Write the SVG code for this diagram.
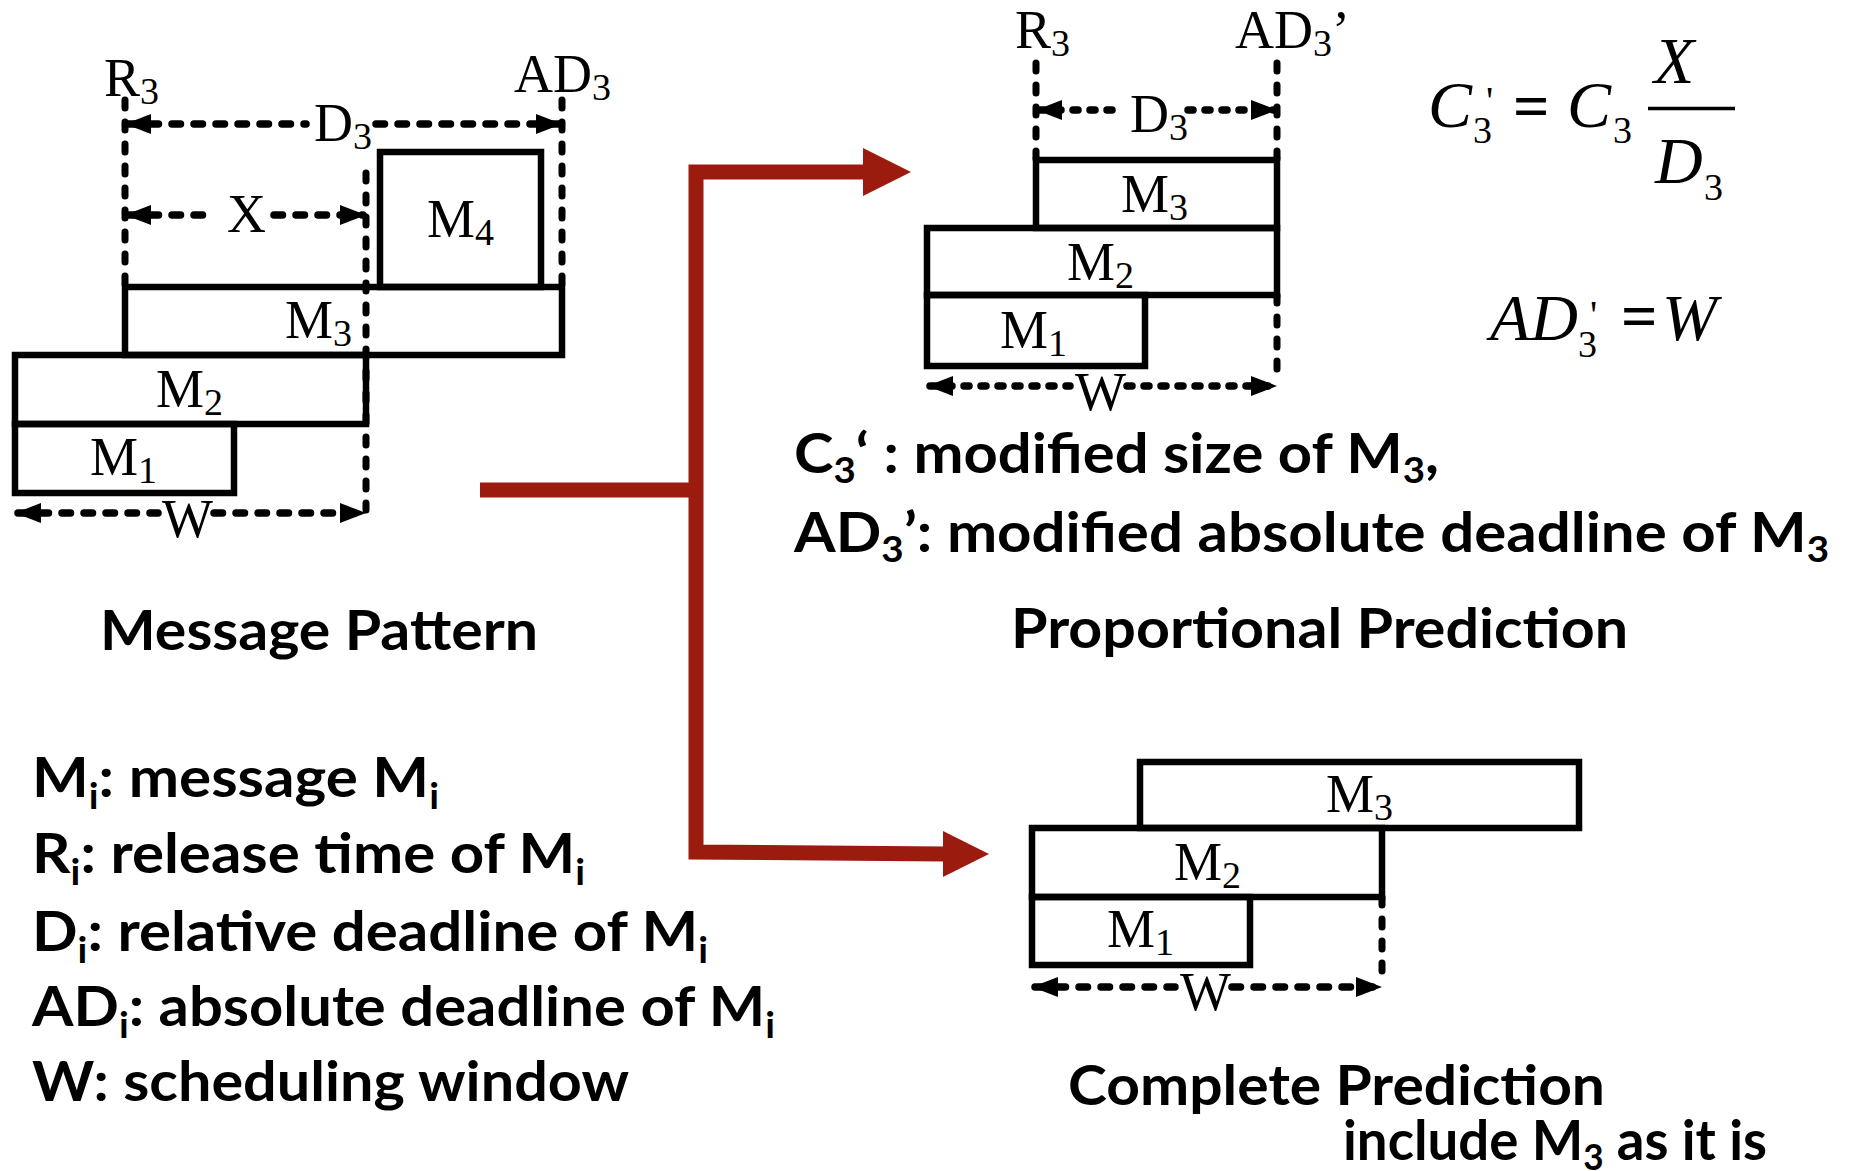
<svg xmlns="http://www.w3.org/2000/svg" width="1850" height="1171" viewBox="0 0 1850 1171">
<style>
.box{fill:none;stroke:#000;stroke-width:6.5;stroke-linecap:square}
.dv{fill:none;stroke:#000;stroke-width:7;stroke-linecap:round;stroke-dasharray:8 14}
.dh{fill:none;stroke:#000;stroke-width:7.5;stroke-linecap:round;stroke-dasharray:8.5 13.5}
.dh2{fill:none;stroke:#000;stroke-width:7.5;stroke-linecap:round;stroke-dasharray:5 12}
.lbl{font-family:"Liberation Serif","Times New Roman",serif;font-size:54px;fill:#000}
.sub{font-size:38px}
.math{font-family:"Liberation Serif","Times New Roman",serif;font-style:italic;font-size:66px;fill:#000}
.up{font-family:"Liberation Serif","Times New Roman",serif;fill:#000}
.bt{font-family:Lato,"Open Sans",sans-serif;font-weight:700;font-size:56px;fill:#000}
.bs{font-size:36px}
.red{fill:none;stroke:#9c1b0f;stroke-width:15;stroke-linejoin:miter}
.redh{fill:#9c1b0f}
</style>
<defs>
<marker id="ah" viewBox="0 0 26 20" refX="23" refY="10" markerWidth="26" markerHeight="20" markerUnits="userSpaceOnUse" orient="auto-start-reverse">
<path d="M0,0 L26,10 L0,20 z" fill="#000"/>
</marker>
</defs>
<rect width="1850" height="1171" fill="#fff"/>

<g id="message-pattern">
<line class="dv" x1="125" y1="100" x2="125" y2="287"/>
<line class="dv" x1="562" y1="100" x2="562" y2="287"/>
<line class="dv" x1="366" y1="173" x2="366" y2="510"/>
<line class="dh" x1="128" y1="124" x2="306" y2="124" marker-start="url(#ah)"/>
<line class="dh" x1="376" y1="124" x2="559" y2="124" marker-end="url(#ah)"/>
<line class="dh" x1="128" y1="215" x2="216" y2="215" marker-start="url(#ah)"/>
<line class="dh" x1="274" y1="215" x2="363" y2="215" marker-end="url(#ah)"/>
<line class="dh" x1="18" y1="513" x2="158" y2="513" marker-start="url(#ah)"/>
<line class="dh" x1="214" y1="513" x2="363" y2="513" marker-end="url(#ah)"/>
<rect class="box" x="380" y="152" width="161" height="135"/>
<rect class="box" x="125" y="287" width="437" height="68"/>
<rect class="box" x="15" y="355" width="351" height="69"/>
<rect class="box" x="15" y="424" width="219" height="69"/>
<text class="lbl" x="104" y="96">R<tspan class="sub" dy="8">3</tspan></text>
<text class="lbl" x="514" y="92">AD<tspan class="sub" dy="8">3</tspan></text>
<text class="lbl" x="314" y="141">D<tspan class="sub" dy="8">3</tspan></text>
<text class="lbl" x="227" y="232">X</text>
<text class="lbl" x="427" y="237">M<tspan class="sub" dy="8">4</tspan></text>
<text class="lbl" x="285" y="338">M<tspan class="sub" dy="8">3</tspan></text>
<text class="lbl" x="156" y="407">M<tspan class="sub" dy="8">2</tspan></text>
<text class="lbl" x="90" y="475">M<tspan class="sub" dy="8">1</tspan></text>
<text class="lbl" x="162" y="537">W</text>
<text class="bt" x="100" y="650" textLength="438" lengthAdjust="spacingAndGlyphs">Message Pattern</text>
</g>

<g id="proportional-prediction">
<line class="dv" x1="1036" y1="63" x2="1036" y2="160"/>
<line class="dv" x1="1277" y1="63" x2="1277" y2="160"/>
<line class="dv" x1="1277" y1="295" x2="1277" y2="382"/>
<line class="dh2" x1="1039" y1="110" x2="1120" y2="110" marker-start="url(#ah)"/>
<line class="dh2" x1="1188" y1="110" x2="1274" y2="110" marker-end="url(#ah)"/>
<line class="dh2" x1="930" y1="386" x2="1070" y2="386" marker-start="url(#ah)"/>
<line class="dh2" x1="1127" y1="386" x2="1274" y2="386" marker-end="url(#ah)"/>
<rect class="box" x="1036" y="160" width="241" height="68"/>
<rect class="box" x="927" y="228" width="350" height="67"/>
<rect class="box" x="927" y="295" width="218" height="71"/>
<text class="lbl" x="1015" y="48">R<tspan class="sub" dy="8">3</tspan></text>
<text class="lbl" x="1235" y="48">AD<tspan class="sub" dy="8">3</tspan><tspan dy="-8">’</tspan></text>
<text class="lbl" x="1130" y="132">D<tspan class="sub" dy="8">3</tspan></text>
<text class="lbl" x="1121" y="212">M<tspan class="sub" dy="8">3</tspan></text>
<text class="lbl" x="1067" y="280">M<tspan class="sub" dy="8">2</tspan></text>
<text class="lbl" x="1000" y="348">M<tspan class="sub" dy="8">1</tspan></text>
<text class="lbl" x="1075" y="410">W</text>
<text class="bt" x="794" y="473" textLength="645" lengthAdjust="spacingAndGlyphs">C<tspan class="bs" dy="10">3</tspan><tspan dy="-10">‘ : modified size of M</tspan><tspan class="bs" dy="10">3</tspan><tspan dy="-10">,</tspan></text>
<text class="bt" x="794" y="552" textLength="1035" lengthAdjust="spacingAndGlyphs">AD<tspan class="bs" dy="10">3</tspan><tspan dy="-10">’: modified absolute deadline of M</tspan><tspan class="bs" dy="10">3</tspan></text>
<text class="bt" x="1011" y="648" textLength="617" lengthAdjust="spacingAndGlyphs">Proportional Prediction</text>
</g>

<g id="formulas">
<text class="math" x="1428" y="127" font-size="70">C</text>
<text class="up" x="1486" y="114" font-size="40">'</text>
<text class="up" x="1473" y="143" font-size="38">3</text>
<text class="up" x="1513" y="128" font-size="64" font-weight="700">=</text>
<text class="math" x="1567" y="127" font-size="70">C</text>
<text class="up" x="1613" y="143" font-size="38">3</text>
<line x1="1648" y1="108.5" x2="1735" y2="108.5" stroke="#000" stroke-width="3.5"/>
<text class="math" x="1654" y="83" font-size="72">X</text>
<text class="math" x="1655" y="183" font-size="70">D</text>
<text class="up" x="1704" y="200" font-size="38">3</text>
<text class="math" x="1490" y="340">AD</text>
<text class="up" x="1590" y="328" font-size="40">'</text>
<text class="up" x="1578" y="357" font-size="38">3</text>
<text class="up" x="1621" y="338" font-size="64" font-weight="700">=</text>
<text class="math" x="1662" y="340" font-size="68">W</text>
</g>

<g id="complete-prediction">
<line class="dv" x1="1382" y1="897" x2="1382" y2="983"/>
<line class="dh" x1="1035" y1="987" x2="1175" y2="987" marker-start="url(#ah)"/>
<line class="dh" x1="1232" y1="987" x2="1379" y2="987" marker-end="url(#ah)"/>
<rect class="box" x="1140" y="762" width="439" height="66"/>
<rect class="box" x="1032" y="828" width="350" height="69"/>
<rect class="box" x="1032" y="897" width="218" height="68"/>
<text class="lbl" x="1326" y="812">M<tspan class="sub" dy="8">3</tspan></text>
<text class="lbl" x="1174" y="880">M<tspan class="sub" dy="8">2</tspan></text>
<text class="lbl" x="1107" y="947">M<tspan class="sub" dy="8">1</tspan></text>
<text class="lbl" x="1180" y="1010">W</text>
<text class="bt" x="1068" y="1105" textLength="537" lengthAdjust="spacingAndGlyphs">Complete Prediction</text>
<text class="bt" x="1343" y="1160" textLength="424" lengthAdjust="spacingAndGlyphs">include M<tspan class="bs" dy="10">3</tspan><tspan dy="-10"> as it is</tspan></text>
</g>

<g id="legend">
<text class="bt" x="32" y="797" textLength="407" lengthAdjust="spacingAndGlyphs">M<tspan class="bs" dy="12">i</tspan><tspan dy="-12">: message M</tspan><tspan class="bs" dy="12">i</tspan></text>
<text class="bt" x="32" y="873" textLength="553" lengthAdjust="spacingAndGlyphs">R<tspan class="bs" dy="12">i</tspan><tspan dy="-12">: release time of M</tspan><tspan class="bs" dy="12">i</tspan></text>
<text class="bt" x="32" y="951" textLength="676" lengthAdjust="spacingAndGlyphs">D<tspan class="bs" dy="12">i</tspan><tspan dy="-12">: relative deadline of M</tspan><tspan class="bs" dy="12">i</tspan></text>
<text class="bt" x="32" y="1026" textLength="743" lengthAdjust="spacingAndGlyphs">AD<tspan class="bs" dy="12">i</tspan><tspan dy="-12">: absolute deadline of M</tspan><tspan class="bs" dy="12">i</tspan></text>
<text class="bt" x="32" y="1101" textLength="597" lengthAdjust="spacingAndGlyphs">W: scheduling window</text>
</g>

<g id="connectors">
<line class="red" x1="480" y1="490" x2="696" y2="490"/>
<path class="red" d="M866,172 H696 V852 L945,854"/>
<polygon class="redh" points="863,148 911,172 863,196"/>
<polygon class="redh" points="943,831 989,854 943,877"/>
</g>
</svg>
